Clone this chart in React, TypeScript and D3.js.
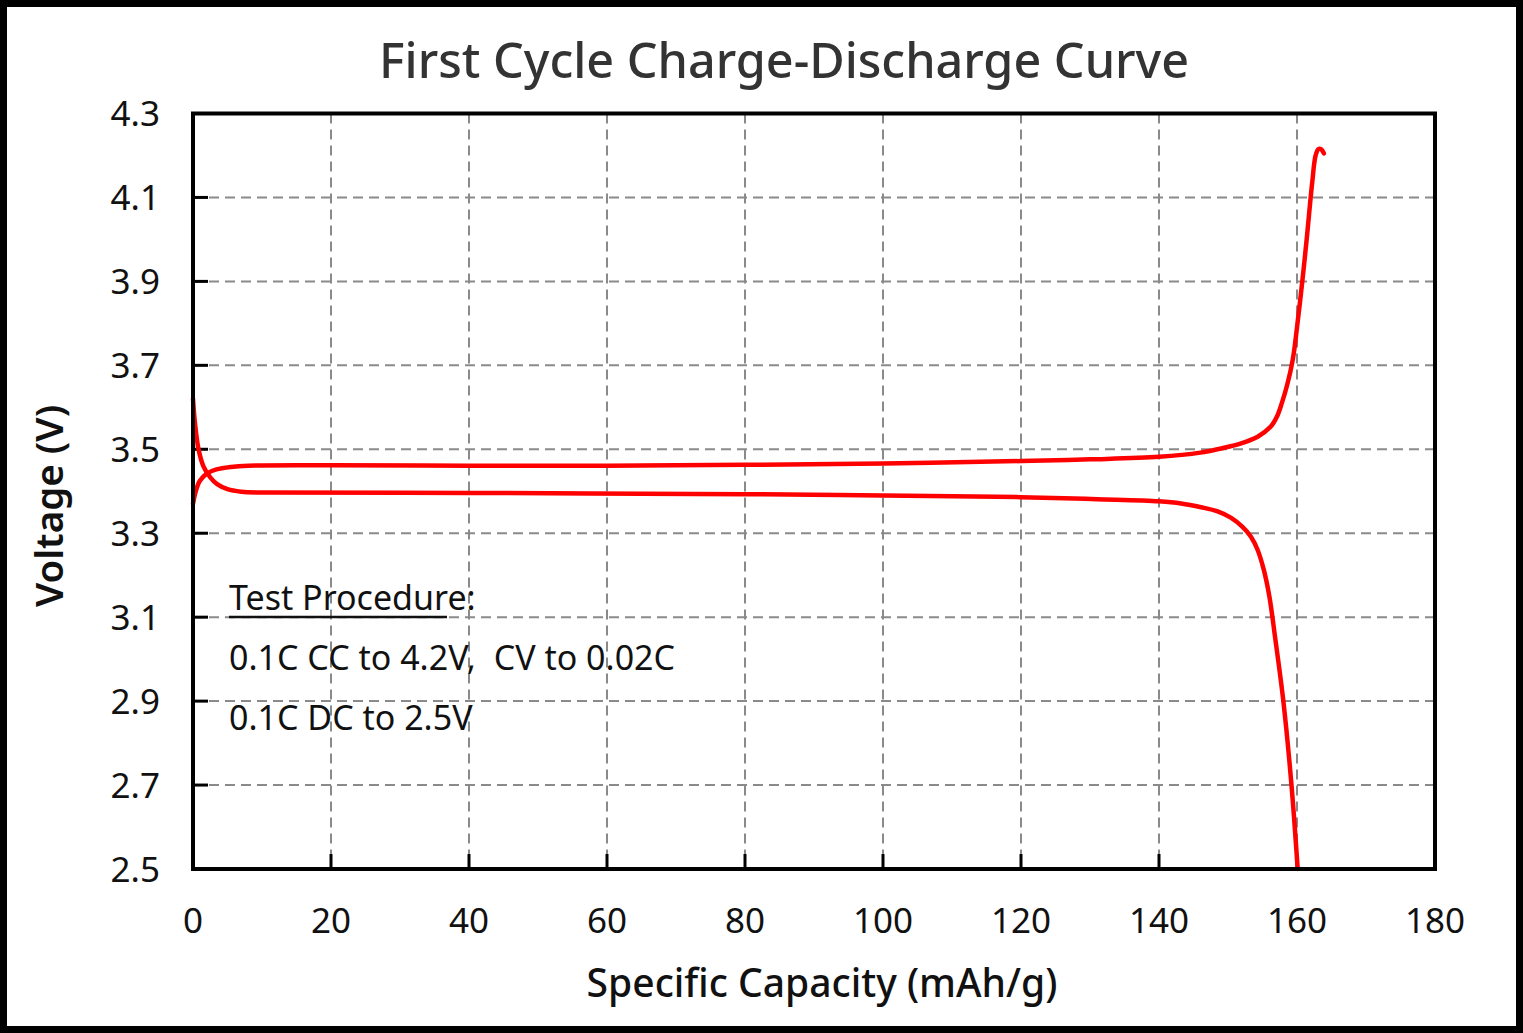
import React, { useEffect } from "react";
import * as d3 from "d3";

// ---- data ----
const chargeCapacity = [0, 0.4, 1.0, 2.0, 3.4, 5.5, 8, 20, 40, 60, 80, 100, 120, 130, 140, 146, 149, 151.9, 154.3, 156.2, 157.1, 157.8, 158.6, 159.4, 160.0, 160.8, 161.4, 162.2, 162.7, 163.1, 163.5, 163.9];
const chargeVoltage = [3.37, 3.40, 3.425, 3.442, 3.452, 3.458, 3.461, 3.462, 3.461, 3.461, 3.463, 3.466, 3.472, 3.476, 3.482, 3.492, 3.502, 3.514, 3.530, 3.554, 3.578, 3.610, 3.655, 3.715, 3.79, 3.905, 4.0, 4.135, 4.20, 4.215, 4.215, 4.205];

const dischargeCapacity = [0, 0.3, 0.8, 1.5, 2.5, 3.5, 5, 7, 10, 40, 80, 100, 120, 131, 140, 143.2, 146.1, 148.5, 150.4, 152.1, 153.3, 154.3, 155.2, 156.0, 156.8, 158.0, 159.2, 160.1];
const dischargeVoltage = [3.62, 3.56, 3.50, 3.46, 3.433, 3.417, 3.405, 3.399, 3.397, 3.396, 3.393, 3.390, 3.386, 3.381, 3.376, 3.371, 3.362, 3.352, 3.337, 3.315, 3.292, 3.260, 3.212, 3.149, 3.055, 2.903, 2.70, 2.50];

const xTicks = [0, 20, 40, 60, 80, 100, 120, 140, 160, 180];
const yTicks = [2.5, 2.7, 2.9, 3.1, 3.3, 3.5, 3.7, 3.9, 4.1, 4.3];

const titleText = "First Cycle Charge-Discharge Curve";
const xTitle = "Specific Capacity (mAh/g)";
const yTitle = "Voltage (V)";
const noteHeading = "Test Procedure:";
const noteLines = ["0.1C CC to 4.2V,\u00a0 CV to 0.02C", "0.1C DC to 2.5V"];

const W = 1523;
const H = 1033;
const M = { left: 193, right: 1435, top: 113.5, bottom: 869 };
const FONT = "'Noto Sans', 'Open Sans', sans-serif";

export default function App() {
  useEffect(() => {
    document.body.style.margin = "0";
  }, []);

  const x = d3.scaleLinear().domain([0, 180]).range([M.left, M.right]);
  const y = d3.scaleLinear().domain([2.5, 4.3]).range([M.bottom, M.top]);

  const line = d3
    .line<[number, number]>()
    .x((d) => x(d[0]))
    .y((d) => y(d[1]))
    .curve(d3.curveCatmullRom.alpha(0.5));

  const charge: [number, number][] = chargeCapacity.map((c, i) => [c, chargeVoltage[i]]);
  const discharge: [number, number][] = dischargeCapacity.map((c, i) => [c, dischargeVoltage[i]]);

  const innerX = xTicks.filter((t) => t > 0 && t < 180);
  const innerY = yTicks.filter((t) => t > 2.5 && t < 4.3);

  return (
    <svg width={W} height={H} style={{ display: "block", position: "absolute", left: 0, top: 0 }} fontFamily={FONT}>
      <rect x={0} y={0} width={W} height={H} fill="#ffffff" />
      <rect x={3.5} y={3.5} width={W - 7} height={H - 7} fill="none" stroke="#000" strokeWidth={7} />

      <text x={784} y={78} textAnchor="middle" fontSize={48.5} fill="#333" fontWeight={500}>
        {titleText}
      </text>

      {/* grid */}
      <g stroke="#8a8a8a" strokeWidth={2} strokeDasharray="10,6">
        {innerX.map((t) => (
          <line key={"gx" + t} x1={x(t)} x2={x(t)} y1={M.top} y2={M.bottom} />
        ))}
        {innerY.map((t) => (
          <line key={"gy" + t} x1={M.left} x2={M.right} y1={y(t)} y2={y(t)} />
        ))}
      </g>

      {/* inner ticks */}
      <g stroke="#000" strokeWidth={3}>
        {innerX.map((t) => (
          <line key={"tx" + t} x1={x(t)} x2={x(t)} y1={M.bottom} y2={M.bottom - 15} />
        ))}
        {innerY.map((t) => (
          <line key={"ty" + t} x1={M.left} x2={M.left + 15} y1={y(t)} y2={y(t)} />
        ))}
      </g>

      {/* curves */}
      <path d={line(discharge) || ""} fill="none" stroke="#ff0000" strokeWidth={4.5} strokeLinecap="round" strokeLinejoin="round" />
      <path d={line(charge) || ""} fill="none" stroke="#ff0000" strokeWidth={4.5} strokeLinecap="round" strokeLinejoin="round" />

      {/* frame */}
      <rect x={M.left} y={M.top} width={M.right - M.left} height={M.bottom - M.top} fill="none" stroke="#000" strokeWidth={4} />

      {/* tick labels */}
      <g fontSize={35} fill="#111">
        {xTicks.map((t) => (
          <text key={"lx" + t} x={x(t)} y={933} textAnchor="middle">
            {t}
          </text>
        ))}
        {yTicks.map((t) => (
          <text key={"ly" + t} x={160} y={y(t)} dy="0.36em" textAnchor="end">
            {t.toFixed(1)}
          </text>
        ))}
      </g>

      {/* axis titles */}
      <text x={822} y={997} textAnchor="middle" fontSize={39} fill="#111" fontWeight={500}>
        {xTitle}
      </text>
      <text transform={`translate(63,506) rotate(-90)`} textAnchor="middle" fontSize={38.5} fill="#111" fontWeight={600}>
        {yTitle}
      </text>

      {/* annotation */}
      <g fontSize={34} fill="#111">
        <text x={229} y={610}>{noteHeading}</text>
        <line x1={229} x2={447} y1={617} y2={617} stroke="#111" strokeWidth={2.5} />
        {noteLines.map((s, i) => (
          <text key={"n" + i} x={229} y={670 + i * 59.5}>
            {s}
          </text>
        ))}
      </g>
    </svg>
  );
}
